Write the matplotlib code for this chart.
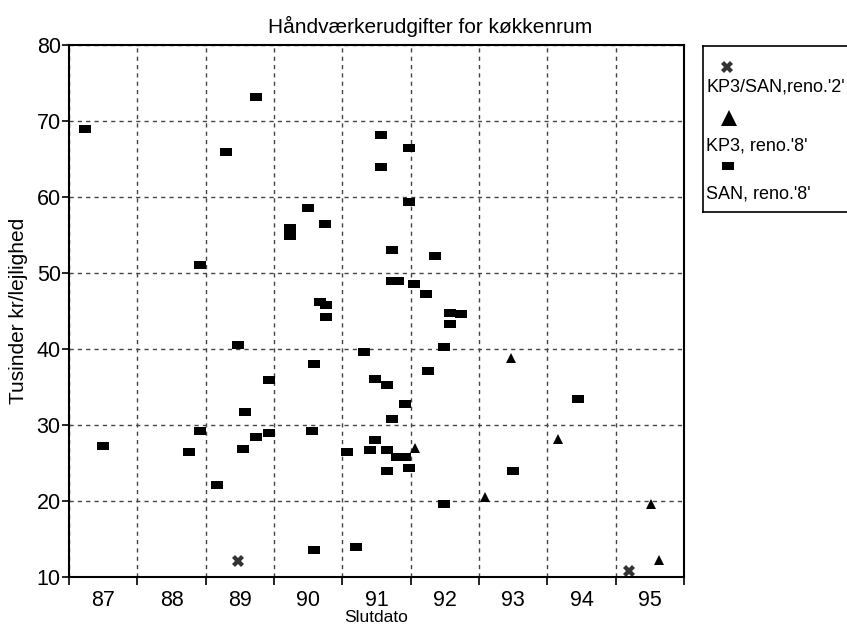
import numpy as np
import matplotlib.pyplot as plt
from matplotlib.ticker import FixedLocator, NullFormatter

plt.rcParams['font.family'] = ['Liberation Sans', 'DejaVu Sans']

# SAN, reno.'8'  (slutdato som år, tusinder kr pr. lejlighed)
san_x = [86.74, 86.99, 88.41, 88.25, 88.41, 88.66, 88.80,
         89.24, 88.98, 89.07, 89.04, 89.24, 89.42, 89.42,
         89.99, 89.74, 89.74, 90.25, 90.17, 90.26, 90.26, 90.08, 90.05, 90.08, 90.57, 90.70,
         90.82, 91.06, 91.06, 90.98, 91.16, 90.98, 90.91, 91.16, 91.16, 91.23, 91.23, 91.23,
         91.31, 91.30, 91.41, 91.41, 91.48, 91.48, 91.48, 91.55, 91.73, 91.76, 91.86,
         92.07, 92.24, 92.07, 91.99, 91.99, 93.00, 93.95]
san_y = [68.9, 27.3, 51.1, 26.4, 29.2, 22.1, 65.9,
         73.1, 40.5, 31.7, 26.8, 28.4, 28.9, 35.9,
         58.6, 55.9, 54.9, 56.5, 46.2, 45.8, 44.2, 38.0, 29.2, 13.6, 26.4, 13.9,
         39.6, 68.1, 64.0, 36.1, 35.2, 28.0, 26.7, 26.7, 23.9, 30.75, 53.0, 49.0,
         48.9, 25.8, 25.8, 32.7, 24.3, 66.4, 59.3, 48.6, 47.3, 37.1, 52.3,
         44.8, 44.6, 43.25, 40.3, 19.6, 23.9, 33.4]

# KP3, reno.'8'
kp3_x = [91.56, 92.59, 92.97, 93.66, 95.02, 95.14]
kp3_y = [27.0, 20.5, 38.8, 28.2, 19.6, 12.2]

# KP3/SAN, reno.'2'
mix_x = [88.98, 94.69]
mix_y = [12.15, 10.8]

aar = [87, 88, 89, 90, 91, 92, 93, 94, 95]

rekt = [(-1.6, -1), (1.6, -1), (1.6, 1), (-1.6, 1), (-1.6, -1)]

fig = plt.figure(figsize=(8.47, 6.25), dpi=100)
ax = fig.add_axes([0.0815, 0.0768, 0.7261, 0.8512])

ax.plot(san_x, san_y, ls='none', marker=rekt, ms=8.5, color='black', mew=0)
ax.plot(kp3_x, kp3_y, ls='none', marker='^', ms=7, color='black', mew=0)
ax.plot(mix_x, mix_y, ls='none', marker='X', ms=8, color='#333333', mew=0)

ax.set_xlim(86.5, 95.5)
ax.set_ylim(10, 80)

# år-grænser som hovedstreger, årstal midt i hvert felt
graenser = [a - 0.5 for a in aar] + [aar[-1] + 0.5]
ax.xaxis.set_major_locator(FixedLocator(graenser))
ax.xaxis.set_major_formatter(NullFormatter())
ax.xaxis.set_minor_locator(FixedLocator(aar))
ax.set_xticklabels([str(a) for a in aar], minor=True)
ax.tick_params(axis='x', which='major', length=6, width=1.2, direction='out')
ax.tick_params(axis='x', which='minor', length=0, labelsize=15.5, pad=9)
ax.set_yticks(np.arange(10, 81, 10))
ax.tick_params(axis='y', length=5, width=1.2, labelsize=15.5, pad=1)

ax.grid(True, which='major', ls=(0, (3, 3)), color='#444444', lw=1)
for s in ax.spines.values():
    s.set_linewidth(1.5)

ax.set_xlabel('Slutdato', fontsize=12.5, labelpad=0)
ax.set_ylabel('Tusinder kr/lejlighed', fontsize=15, labelpad=6)
fig.text(0.508, 0.958, 'Håndværkerudgifter for køkkenrum', ha='center', va='center', fontsize=15)

# forklaring: symbol over tekst
lg = fig.add_axes([0.830, 0.661, 0.18, 0.265])
lg.set_xlim(0, 1)
lg.set_ylim(0, 1)
lg.set_xticks([])
lg.set_yticks([])
for s in lg.spines.values():
    s.set_linewidth(1.2)
lg.plot([0.158], [0.873], ls='none', marker='X', ms=8, color='#333333', mew=0)
lg.text(0.02, 0.753, "KP3/SAN,reno.'2'", fontsize=13, va='center')
lg.plot([0.17], [0.566], ls='none', marker='^', ms=11, color='black', mew=0)
lg.text(0.02, 0.398, "KP3, reno.'8'", fontsize=13, va='center')
lg.plot([0.165], [0.277], ls='none', marker=rekt, ms=9, color='black', mew=0)
lg.text(0.02, 0.108, "SAN, reno.'8'", fontsize=13, va='center')

fig.savefig('out.png', dpi=100)
